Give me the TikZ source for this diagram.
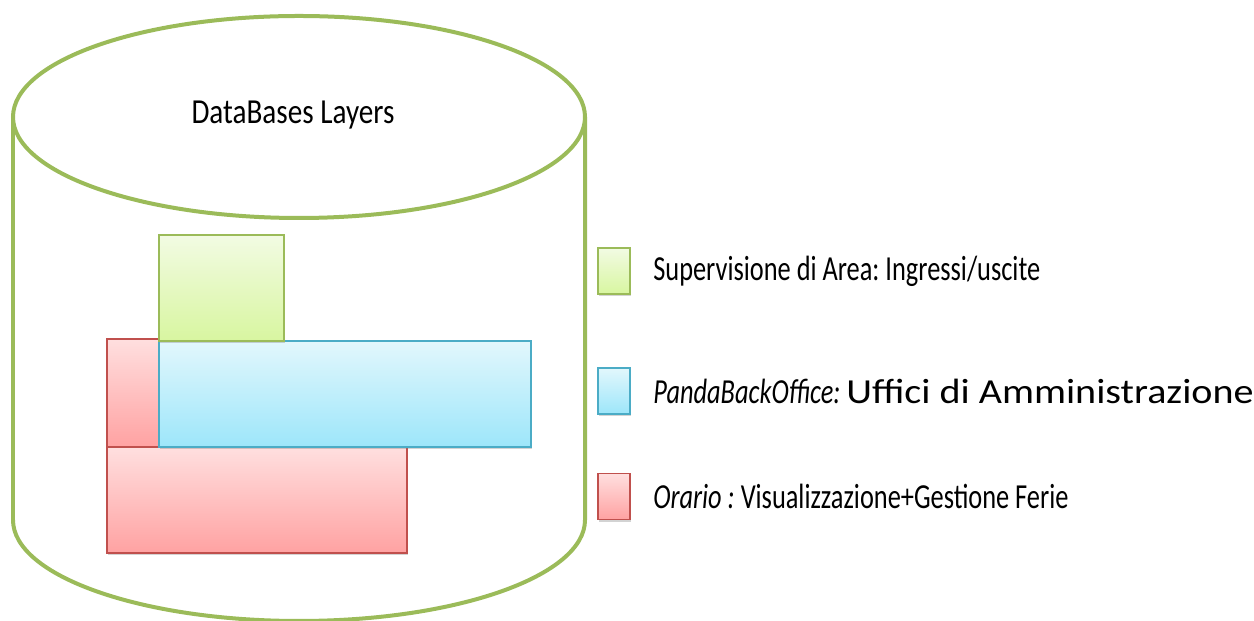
\documentclass[tikz,border=0pt]{standalone}
\usepackage{fontspec}
\setmainfont{Carlito}
\newfontfamily\titlefont[FakeStretch=0.83]{Carlito}
\newfontfamily\legendfont[FakeStretch=0.75]{Carlito}
\newfontfamily\widefont[FakeStretch=1.14]{Carlito}
\usetikzlibrary{shadows,positioning}

\definecolor{dbgreen}{HTML}{9BBB59}
\definecolor{dbblue}{HTML}{4BACC6}
\definecolor{dbred}{HTML}{C0504D}
\definecolor{greentop}{HTML}{F2FBE3}
\definecolor{greenbot}{HTML}{D8F6A0}
\definecolor{bluetop}{HTML}{E2F7FC}
\definecolor{bluebot}{HTML}{9DE6FA}
\definecolor{redtop}{HTML}{FFDFDF}
\definecolor{redbot}{HTML}{FFA2A2}

\tikzset{
  dbline/.style={draw=dbgreen,line width=0.08cm},
  layer/.style={anchor=south west,inner sep=0pt,outer sep=0pt,line width=0.03cm,
    drop shadow={shadow xshift=0.6pt,shadow yshift=-1.2pt,opacity=0.35}},
  greenlayer/.style={layer,draw=dbgreen,top color=greentop,bottom color=greenbot},
  bluelayer/.style={layer,draw=dbblue,top color=bluetop,bottom color=bluebot},
  redlayer/.style={layer,draw=dbred,top color=redtop,bottom color=redbot},
  legendbox/.style={minimum width=0.64cm,minimum height=0.92cm},
  legendtext/.style={anchor=west,inner sep=0pt,font=\legendfont\frenchspacing\fontsize{20}{24}\selectfont}
}

\begin{document}
\begin{tikzpicture}[x=0.02cm,y=0.02cm]
\useasboundingbox (0,0) rectangle (1254,621);
% Draw the database cylinder
\draw[dbline] (13,504) -- (13,101) arc[start angle=180,end angle=360,x radius=286,y radius=101] -- (585,504);
\draw[dbline,fill=white] (299,504) ellipse [x radius=286,y radius=101];
\node[font=\titlefont\fontsize{20}{24}\selectfont] (title) at (293,506) {DataBases Layers};
% Draw the layers
\node[redlayer,minimum width=1.86cm,minimum height=2.16cm] (orarioa) at (107,174) {};
\node[redlayer,minimum width=6cm,minimum height=2.12cm] (orariob) at (107,68) {};
\node[bluelayer,minimum width=7.44cm,minimum height=2.12cm] (panda) at (159,174) {};
\node[greenlayer,minimum width=2.5cm,minimum height=2.12cm] (superv) at (159,280) {};
% Draw the legend
\node[greenlayer,legendbox,anchor=center] (kgreen) at (614,350) {};
\node[bluelayer,legendbox,anchor=center] (kblue) at (614,230) {};
\node[redlayer,legendbox,anchor=center] (kred) at (614,124.5) {};
\node[legendtext,right=0.46cm of kgreen] (tgreen) {Supervisione di Area: Ingressi/uscite};
\node[legendtext,right=0.46cm of kblue] (tblue) {\textit{PandaBackOffice:}\,{\widefont Uffici di Amministrazione}};
\node[legendtext,right=0.46cm of kred] (tred) {\textit{Orario :} Visualizzazione+Gestione Ferie};
\end{tikzpicture}
\end{document}
